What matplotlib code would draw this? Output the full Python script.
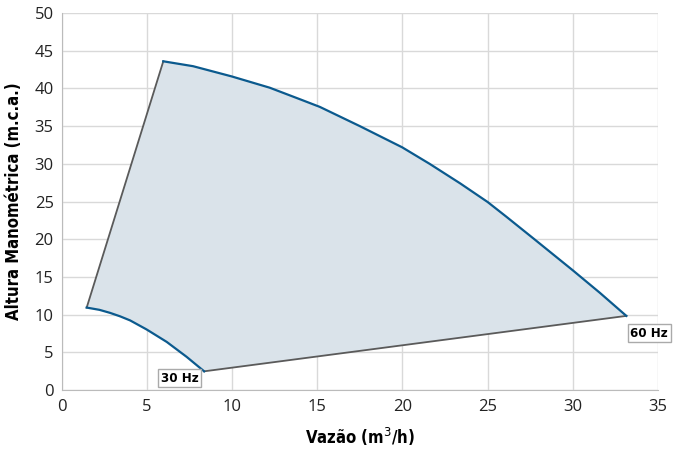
import matplotlib
matplotlib.use("Agg")
import matplotlib.pyplot as plt

# 60 Hz curve (upper)
q60 = [5.95, 7.7, 9.96, 12.2, 14.0, 15.15, 17.5, 19.98, 21.6, 23.4, 25.0, 26.1, 27.7, 30.0, 31.6, 33.15]
h60 = [43.6, 42.95, 41.6, 40.1, 38.55, 37.55, 35.0, 32.2, 30.0, 27.4, 24.95, 23.0, 20.1, 15.9, 12.9, 9.85]

# 30 Hz curve (lower)
q30 = [1.45, 2.2, 2.82, 3.4, 4.0, 4.97, 6.15, 7.32, 8.35]
h30 = [10.95, 10.65, 10.25, 9.8, 9.25, 8.05, 6.4, 4.42, 2.5]

xticks = [0, 5, 10, 15, 20, 25, 30, 35]
yticks = [0, 5, 10, 15, 20, 25, 30, 35, 40, 45, 50]

blue = "#0b5a8e"
gray = "#5a5a5a"
fill = "#dae3ea"

fig = plt.figure(figsize=(6.74, 4.49), dpi=100)
ax = fig.add_axes([0.092, 0.131, 0.884, 0.84])

# fill region: left edge -> 60 Hz -> bottom edge -> 30 Hz reversed
poly_x = q60 + q30[::-1]
poly_y = h60 + h30[::-1]
ax.fill(poly_x, poly_y, color=fill, zorder=1, lw=0)

ax.plot([q30[0], q60[0]], [h30[0], h60[0]], color=gray, lw=1.3, zorder=3)
ax.plot([q30[-1], q60[-1]], [h30[-1], h60[-1]], color=gray, lw=1.3, zorder=3)
ax.plot(q60, h60, color=blue, lw=1.6, zorder=4, solid_joinstyle="round")
ax.plot(q30, h30, color=blue, lw=1.6, zorder=4, solid_joinstyle="round")

box = dict(boxstyle="square,pad=0.2", fc="white", ec="#aaaaaa", lw=1)
ax.annotate("30 Hz", (q30[-1], h30[-1]), xytext=(-4, -5), textcoords="offset points",
            ha="right", va="center", fontsize=9.5, fontweight="bold",
            fontstretch="condensed", bbox=box, zorder=5)
ax.annotate("60 Hz", (q60[-1], h60[-1]), xytext=(3, -12.5), textcoords="offset points",
            ha="left", va="center", fontsize=9.5, fontweight="bold",
            fontstretch="condensed", bbox=box, zorder=5)

ax.set_xlim(0, 35)
ax.set_ylim(0, 50)
ax.set_xticks(xticks)
ax.set_yticks(yticks)
ax.tick_params(length=0, labelsize=12, colors="#222222", pad=6)
for lab in ax.get_xticklabels() + ax.get_yticklabels():
    lab.set_family("Open Sans")
ax.grid(True, color="#d9d9d9", lw=1, zorder=0)
ax.set_axisbelow(True)
for s in ["top", "right"]:
    ax.spines[s].set_visible(False)
for s in ["left", "bottom"]:
    ax.spines[s].set_color("#bbbbbb")

ax.set_xlabel("Vazão (m$^3$/h)", fontsize=12, fontweight="bold", fontstretch="condensed", labelpad=8)
ax.set_ylabel("Altura Manométrica (m.c.a.)", fontsize=12, fontweight="bold", fontstretch="condensed", labelpad=8)

fig.savefig("out.png", dpi=100)
